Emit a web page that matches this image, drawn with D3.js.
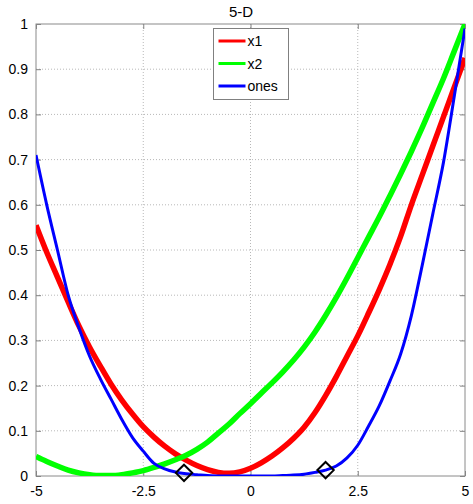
<!DOCTYPE html>
<html>
<head>
<meta charset="utf-8">
<script src="https://cdn.jsdelivr.net/npm/d3@7"></script>
<style>
  body { margin: 0; background: #fff; }
  svg { display: block; font-family: "Liberation Sans", Arial, sans-serif; }
</style>
</head>
<body>
<svg id="chart"></svg>
<script>
const xs = [-5, -4.75, -4.5, -4.25, -4, -3.75, -3.5, -3.25, -3, -2.75, -2.5, -2.25, -2, -1.75, -1.5, -1.25, -1, -0.75, -0.5, -0.25,
  0, 0.25, 0.5, 0.75, 1, 1.25, 1.5, 1.75, 2, 2.25, 2.5, 2.75, 3, 3.25, 3.5, 3.75, 4, 4.25, 4.5, 4.75, 5];

const x1 = [0.555, 0.495, 0.44, 0.385, 0.332, 0.285, 0.243, 0.203, 0.168, 0.137, 0.109, 0.086, 0.066, 0.049, 0.035, 0.023, 0.014, 0.008, 0.006, 0.009,
  0.017, 0.029, 0.044, 0.062, 0.083, 0.108, 0.14, 0.178, 0.22, 0.265, 0.31, 0.36, 0.412, 0.468, 0.53, 0.6, 0.665, 0.73, 0.795, 0.86, 0.925];

const x2 = [0.043, 0.032, 0.022, 0.013, 0.007, 0.003, 0.001, 0.001, 0.003, 0.007, 0.012, 0.019, 0.027, 0.036, 0.046, 0.059, 0.075, 0.095, 0.115, 0.138,
  0.16, 0.183, 0.206, 0.23, 0.256, 0.285, 0.318, 0.355, 0.395, 0.438, 0.483, 0.528, 0.573, 0.62, 0.668, 0.718, 0.77, 0.825, 0.88, 0.94, 1.0];

const ones = [0.71, 0.6, 0.5, 0.4, 0.328, 0.265, 0.215, 0.17, 0.125, 0.085, 0.055, 0.028, 0.016, 0.009, 0.005, 0.003, 0.001, 0, 0, 0,
  0, 0, 0, 0.001, 0.002, 0.004, 0.008, 0.013, 0.022, 0.04, 0.068, 0.11, 0.155, 0.21, 0.27, 0.355, 0.465, 0.58, 0.695, 0.84, 0.99];

const markX = [-1.55, 1.75];
const markY = [0.007, 0.013];

const xTicks = [-5, -2.5, 0, 2.5, 5];
const yTicks = [0, 0.1, 0.2, 0.3, 0.4, 0.5, 0.6, 0.7, 0.8, 0.9, 1];

const seriesNames = ["x1", "x2", "ones"];
const seriesColors = ["#ff0000", "#00ff00", "#0000ff"];

const margin = { top: 24, right: 8, bottom: 28, left: 36 };
const W = 473, H = 504;
const width = W - margin.left - margin.right;
const height = H - margin.top - margin.bottom;

const svg = d3.select("#chart").attr("width", W).attr("height", H);
const g = svg.append("g").attr("transform", `translate(${margin.left},${margin.top})`);

const x = d3.scaleLinear().domain([-5, 5]).range([0, width]);
const y = d3.scaleLinear().domain([0, 1]).range([height, 0]);

// grid
g.append("g").selectAll("line")
  .data(xTicks.slice(1, -1))
  .enter().append("line")
  .attr("x1", d => x(d)).attr("x2", d => x(d))
  .attr("y1", 0).attr("y2", height)
  .attr("stroke", "#b8b8b8").attr("stroke-dasharray", "1,2");

g.append("g").selectAll("line")
  .data(yTicks.slice(1, -1))
  .enter().append("line")
  .attr("x1", 0).attr("x2", width)
  .attr("y1", d => y(d)).attr("y2", d => y(d))
  .attr("stroke", "#b8b8b8").attr("stroke-dasharray", "1,2");

// axes (ticks inside, matlab style)
const axisStyle = sel => {
  sel.select(".domain").remove();
  sel.selectAll("line").attr("stroke", "#808080");
  sel.selectAll("text").attr("font-size", "14px").attr("fill", "#000");
};
const fmt = d => String(d); // plain hyphen minus like the original

g.append("g").attr("transform", `translate(0,${height})`)
  .call(d3.axisBottom(x).tickValues(xTicks).tickSize(-5).tickPadding(10).tickFormat(fmt))
  .call(axisStyle);
g.append("g")
  .call(d3.axisTop(x).tickValues(xTicks).tickSize(-5).tickFormat(""))
  .call(axisStyle);
g.append("g")
  .call(d3.axisLeft(y).tickValues(yTicks).tickSize(-5).tickPadding(8).tickFormat(fmt))
  .call(axisStyle);
g.append("g").attr("transform", `translate(${width},0)`)
  .call(d3.axisRight(y).tickValues(yTicks).tickSize(-5).tickFormat(""))
  .call(axisStyle);

g.append("rect")
  .attr("width", width).attr("height", height)
  .attr("fill", "none").attr("stroke", "#8a8a8a").attr("stroke-width", 1);

// curves
svg.append("defs").append("clipPath").attr("id", "clip")
  .append("rect").attr("width", width).attr("height", height);

const line = d3.line()
  .x((d, i) => x(xs[i]))
  .y(d => y(d))
  .curve(d3.curveMonotoneX);

const plot = g.append("g").attr("clip-path", "url(#clip)");
[x1, x2, ones].forEach((vals, i) => {
  plot.append("path")
    .datum(vals)
    .attr("fill", "none")
    .attr("stroke", seriesColors[i])
    .attr("stroke-width", i < 2 ? 5.5 : 3)
    .attr("stroke-linejoin", "round")
    .attr("d", line);
});

// diamond markers
g.selectAll("path.mark")
  .data(markX)
  .enter().append("path")
  .attr("class", "mark")
  .attr("transform", (d, i) => `translate(${x(d)},${y(markY[i])})`)
  .attr("d", d3.symbol().type(d3.symbolDiamond2).size(170))
  .attr("fill", "none")
  .attr("stroke", "#000")
  .attr("stroke-width", 2);

// title
svg.append("text")
  .attr("x", 241).attr("y", 17)
  .attr("text-anchor", "middle")
  .attr("font-size", "15px")
  .text("5-D");

// legend
const legend = svg.append("g").attr("transform", "translate(213.5,28.5)");
legend.append("rect")
  .attr("width", 75).attr("height", 71)
  .attr("fill", "#fff").attr("stroke", "#808080");
seriesNames.forEach((name, i) => {
  const ly = 12.5 + i * 22.5;
  legend.append("line")
    .attr("x1", 5).attr("x2", 32)
    .attr("y1", ly).attr("y2", ly)
    .attr("stroke", seriesColors[i]).attr("stroke-width", 3);
  legend.append("text")
    .attr("x", 34).attr("y", ly + 5)
    .attr("font-size", "14px")
    .text(name);
});
</script>
</body>
</html>
